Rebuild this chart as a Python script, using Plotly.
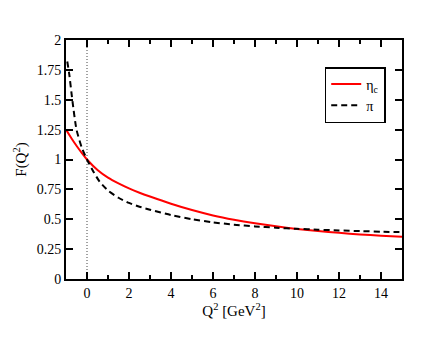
import plotly.graph_objects as go

# eta_c form factor
q2_etac = [-1, -0.75, -0.5, -0.25, 0, 0.5, 1, 1.5, 2, 2.5, 3, 4, 5, 6, 7, 8, 9, 10, 11, 12, 13, 14, 15]
f_etac = [1.25, 1.18, 1.115, 1.055, 1.0, 0.912, 0.848, 0.80, 0.758, 0.722, 0.69, 0.63,
          0.577, 0.532, 0.496, 0.466, 0.441, 0.419, 0.401, 0.386, 0.373, 0.362, 0.353]

# pion form factor
q2_pi = [-0.94, -0.85, -0.7, -0.5, -0.25, 0, 0.3, 0.6, 1, 1.5, 2, 2.5, 3, 4, 5, 6, 7, 8, 9,
         10, 11, 12, 13, 14, 15]
f_pi = [1.82, 1.72, 1.5, 1.25, 1.1, 1.0, 0.90, 0.815, 0.74, 0.68, 0.637, 0.605, 0.58, 0.535,
        0.50, 0.474, 0.455, 0.44, 0.429, 0.42, 0.413, 0.406, 0.401, 0.396, 0.392]

# dotted reference line at Q^2 = 0
zero_q2 = [0, 0]
zero_f = [0, 2]

x_ticks = [0, 2, 4, 6, 8, 10, 12, 14]
x_minor_ticks = [-1, 0, 1, 2, 3, 4, 5, 6, 7, 8, 9, 10, 11, 12, 13, 14, 15]
y_ticks = [0, 0.25, 0.5, 0.75, 1, 1.25, 1.5, 1.75, 2]
y_labels = ["0", "0.25", "0.5", "0.75", "1", "1.25", "1.5", "1.75", "2"]

FONT = "Liberation Serif"
X_RANGE = [-1, 15]

fig = go.Figure()
fig.add_trace(go.Scatter(x=zero_q2, y=zero_f, mode="lines", showlegend=False,
                         hoverinfo="skip",
                         line=dict(color="#444444", width=1, dash="1px,2px")))
fig.add_trace(go.Scatter(x=q2_etac, y=f_etac, mode="lines", name="η<sub>c</sub>",
                         line=dict(color="#ff0000", width=2, shape="spline", smoothing=0.6)))
fig.add_trace(go.Scatter(x=q2_pi, y=f_pi, mode="lines", name="π",
                         line=dict(color="black", width=2, dash="6px,4px", shape="spline",
                                   smoothing=0.6)))

fig.update_layout(
    width=440, height=340,
    margin=dict(l=52, r=46, t=32, b=69),
    plot_bgcolor="white",
    font=dict(family=FONT, size=14, color="black"),
    showlegend=True,
    legend=dict(x=0.77, y=0.887, xanchor="left", yanchor="top",
                bordercolor="black", borderwidth=1.5, bgcolor="white",
                font=dict(family=FONT, size=14, color="black"), tracegroupgap=0),
    xaxis=dict(range=X_RANGE, tickvals=x_ticks, ticks="inside", ticklen=7, tickwidth=2,
               tickcolor="black", showline=True, showgrid=False, zeroline=False,
               linecolor="black", linewidth=2, mirror="allticks",
               minor=dict(tickvals=x_minor_ticks, ticks="inside", ticklen=4, tickwidth=2,
                          tickcolor="black", showgrid=False),
               title=dict(text="Q<sup>2</sup> [GeV<sup>2</sup>]", standoff=4,
                          font=dict(family=FONT, size=15, color="black"))),
    yaxis=dict(range=[0, 2], tickvals=y_ticks, ticktext=y_labels, ticks="inside", ticklen=7,
               tickwidth=1.5, tickcolor="black", showline=True, showgrid=False,
               zeroline=False, linecolor="black", linewidth=2, mirror="allticks",
               title=dict(text="F(Q<sup>2</sup>)", standoff=6,
                          font=dict(family=FONT, size=15, color="black"))),
)

fig.write_html("out.html")
